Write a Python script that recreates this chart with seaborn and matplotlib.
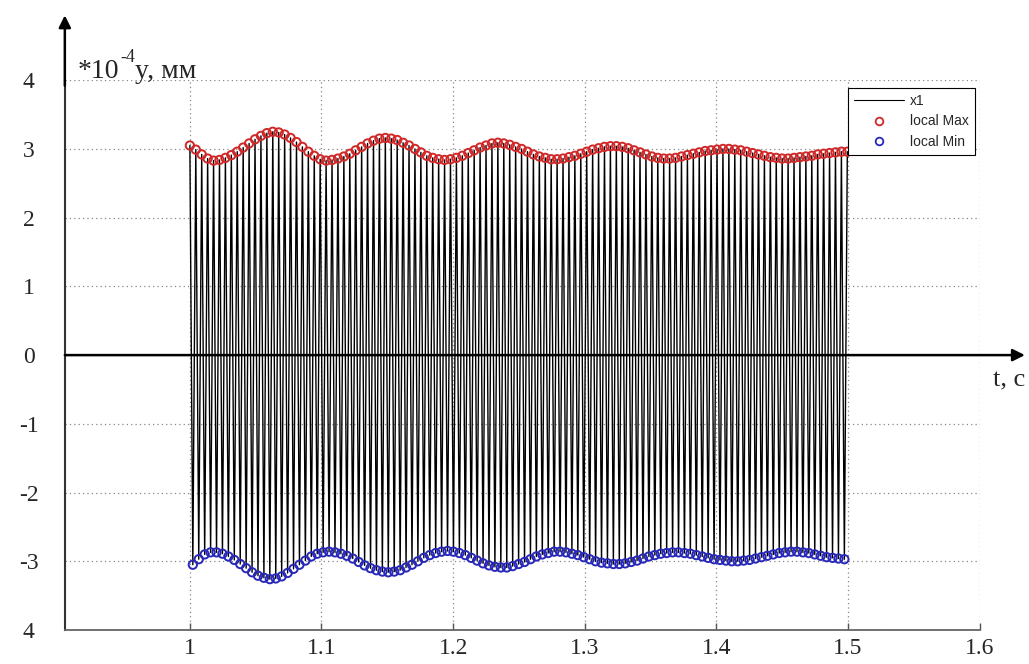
import numpy as np
import pandas as pd
import matplotlib
matplotlib.use("Agg")
import matplotlib.pyplot as plt
from matplotlib.lines import Line2D
import seaborn as sns

# ---- data ----
t_start_max = 1.0
t_start_min = 1.00225
t_step = 0.0045

max_values = [
    3.05, 2.99, 2.92, 2.86, 2.83, 2.84, 2.87, 2.91, 2.96, 3.02, 3.08, 3.14, 3.19, 3.23, 3.25,
    3.24, 3.21, 3.16, 3.10, 3.03, 2.96, 2.90, 2.85, 2.83,
    2.84, 2.86, 2.89, 2.93, 2.98, 3.03, 3.08, 3.12, 3.15, 3.16,
    3.15, 3.13, 3.09, 3.05, 3.00, 2.95, 2.90, 2.87, 2.85, 2.84,
    2.85, 2.87, 2.90, 2.94, 2.98, 3.02, 3.05, 3.08, 3.09,
    3.08, 3.06, 3.03, 3.00, 2.96, 2.92, 2.89, 2.87, 2.85, 2.85,
    2.86, 2.88, 2.90, 2.93, 2.96, 2.99, 3.01, 3.03, 3.04, 3.04,
    3.03, 3.01, 2.98, 2.95, 2.92, 2.89, 2.87, 2.86, 2.86,
    2.87, 2.89, 2.91, 2.93, 2.95, 2.97, 2.98, 2.99, 3.00, 3.00,
    2.99, 2.98, 2.96, 2.94, 2.92, 2.90, 2.88, 2.87, 2.86, 2.86,
    2.87, 2.88, 2.89, 2.90, 2.92, 2.93, 2.94, 2.95, 2.96, 2.96,
]

min_values = [
    -3.05, -2.97, -2.90, -2.87, -2.87, -2.89, -2.93, -2.98, -3.04, -3.10, -3.16, -3.21, -3.24, -3.26,
    -3.25, -3.22, -3.17, -3.11, -3.05, -2.99, -2.93, -2.89, -2.87, -2.86,
    -2.87, -2.89, -2.92, -2.96, -3.01, -3.06, -3.10, -3.13, -3.15, -3.16,
    -3.15, -3.13, -3.09, -3.05, -3.00, -2.95, -2.91, -2.88, -2.86, -2.85,
    -2.86, -2.88, -2.91, -2.95, -2.99, -3.03, -3.06, -3.08, -3.09,
    -3.09, -3.07, -3.04, -3.01, -2.97, -2.93, -2.90, -2.88, -2.86, -2.86,
    -2.87, -2.89, -2.91, -2.94, -2.97, -3.00, -3.02, -3.03, -3.04, -3.04,
    -3.03, -3.01, -2.99, -2.96, -2.93, -2.91, -2.89, -2.88, -2.87, -2.87,
    -2.88, -2.89, -2.91, -2.93, -2.95, -2.97, -2.98, -2.99, -3.00, -3.00,
    -2.99, -2.98, -2.96, -2.94, -2.92, -2.90, -2.88, -2.87, -2.86, -2.86,
    -2.87, -2.88, -2.90, -2.92, -2.94, -2.95, -2.96, -2.97,
]

x_ticks = [1.0, 1.1, 1.2, 1.3, 1.4, 1.5, 1.6]
x_tick_labels = ["1", "1.1", "1.2", "1.3", "1.4", "1.5", "1.6"]
y_ticks = [4, 3, 2, 1, 0, -1, -2, -3, -4]
y_tick_labels = ["4", "3", "2", "1", "0", "-1", "-2", "-3", "4"]

legend_labels = ["x1", "local Max", "local Min"]

# ---- build frames ----
t_max = t_start_max + t_step * np.arange(len(max_values))
t_min = t_start_min + t_step * np.arange(len(min_values))
df_max = pd.DataFrame({"t": t_max, "y": max_values})
df_min = pd.DataFrame({"t": t_min, "y": min_values})
df_sig = pd.concat([df_max, df_min]).sort_values("t").reset_index(drop=True)

sns.set_theme(style="white")
plt.rcParams["font.family"] = ["Liberation Serif", "DejaVu Serif"]
plt.rcParams["axes.unicode_minus"] = False

fig = plt.figure(figsize=(10.29, 6.64), dpi=100)
ax = fig.add_axes([0.063, 0.0512, 0.889, 0.828])

sns.lineplot(data=df_sig, x="t", y="y", ax=ax, color="black", linewidth=1.0,
             estimator=None, sort=False, legend=False, zorder=2)
ax.scatter(df_max["t"], df_max["y"], s=36, facecolors="none",
           edgecolors="#d02828", linewidths=1.4, zorder=3)
ax.scatter(df_min["t"], df_min["y"], s=36, facecolors="none",
           edgecolors="#2828b8", linewidths=1.4, zorder=3)

ax.set_xlim(0.905, 1.6)
ax.set_ylim(-4, 4)
ax.set_xticks(x_ticks)
ax.set_xticklabels(x_tick_labels, fontsize=17)
ax.set_yticks(y_ticks)
ax.set_yticklabels(y_tick_labels, fontsize=17, ha="center")
ax.set_xlabel("")
ax.set_ylabel("")

ax.grid(True, color="#888888", linestyle=(0, (1, 2.5)), linewidth=0.9)
ax.tick_params(axis="x", direction="in", length=5, width=1, color="#555555",
               bottom=True, pad=6)
ax.tick_params(axis="y", length=0, pad=26)

for s in ["top", "right"]:
    ax.spines[s].set_visible(False)
ax.spines["left"].set_color("#333333")
ax.spines["left"].set_linewidth(1.5)
ax.spines["bottom"].set_color("#666666")
ax.spines["bottom"].set_linewidth(1.3)

# y-axis arrow above the plot
ax.annotate("", xy=(0, 1.118), xytext=(0, 0.99), xycoords="axes fraction",
            textcoords="axes fraction",
            arrowprops=dict(arrowstyle="-|>", color="black", lw=1.8,
                            mutation_scale=18, shrinkA=0, shrinkB=0),
            annotation_clip=False)
# x-axis arrow at y = 0
ax.annotate("", xy=(1.0495, 0), xytext=(0.0, 0),
            xycoords=("axes fraction", "data"), textcoords=("axes fraction", "data"),
            arrowprops=dict(arrowstyle="-|>", color="black", lw=1.8,
                            mutation_scale=18, shrinkA=0, shrinkB=0),
            annotation_clip=False, zorder=5)

# y-axis label: *10^-4 y, мм
fig.text(78 / 1029, 1 - 78 / 664, "*10", fontsize=20, ha="left", va="baseline")
fig.text(120 / 1029, 1 - 62 / 664, "-4", fontsize=13, ha="left", va="baseline")
fig.text(135 / 1029, 1 - 78 / 664, "y, мм", fontsize=20, ha="left", va="baseline")
fig.text(993 / 1029, 1 - 380 / 664, "t, c", fontsize=19, ha="left", va="center")

handles = [
    Line2D([0], [0], color="black", lw=0.8),
    Line2D([0], [0], marker="o", linestyle="", markerfacecolor="none",
           markeredgecolor="#d02828", markeredgewidth=1.3, markersize=5.5),
    Line2D([0], [0], marker="o", linestyle="", markerfacecolor="none",
           markeredgecolor="#2828b8", markeredgewidth=1.3, markersize=5.5),
]
leg = ax.legend(handles, legend_labels, loc="upper right",
                bbox_to_anchor=(0.995, 0.986), fancybox=False, framealpha=1,
                edgecolor="black", prop={"family": "Liberation Sans", "size": 10},
                handlelength=3.6, handletextpad=0.4, borderpad=0.45,
                labelspacing=0.45, borderaxespad=0)
leg.get_frame().set_linewidth(0.8)

fig.savefig("out.png", dpi=100)
